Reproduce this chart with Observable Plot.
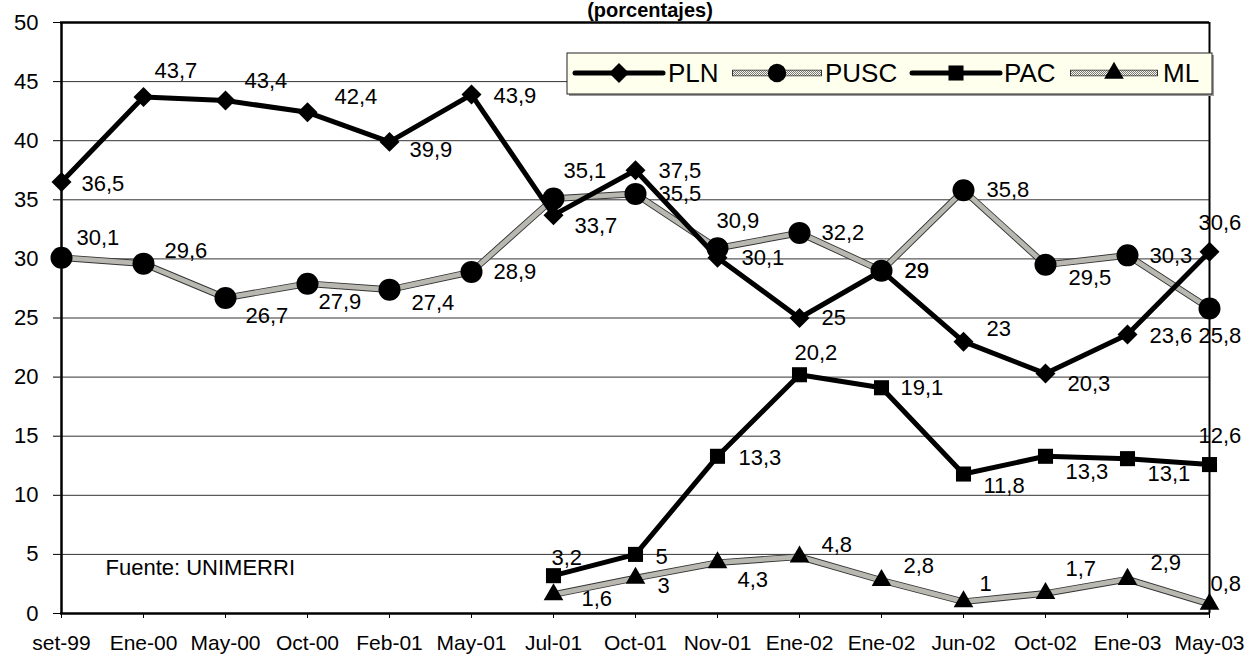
<!DOCTYPE html>
<html>
<head>
<meta charset="utf-8">
<script src="https://cdn.jsdelivr.net/npm/d3@7"></script>
<script src="https://cdn.jsdelivr.net/npm/@observablehq/plot@0.6"></script>
<style>
  body { margin: 0; background: #fff; font-family: "Liberation Sans", Arial, sans-serif; }
  #wrap { position: relative; width: 1257px; height: 656px; overflow: hidden; background: #fff; }
  #title { position: absolute; left: 550px; width: 200px; top: 0px; height: 20px; text-align: center;
           font: bold 20px/20px "Liberation Sans", Arial, sans-serif; color: #000; white-space: nowrap; }
  #chart { position: absolute; left: 0; top: 0; }
</style>
</head>
<body>
<div id="wrap"><div id="chart"></div><div id="title"></div></div>
<script>
// ---------- data ----------
const titleText = "(porcentajes)";
const sourceText = "Fuente: UNIMERRI";
const categories = ["set-99","Ene-00","May-00","Oct-00","Feb-01","May-01","Jul-01","Oct-01","Nov-01","Ene-02","Ene-02","Jun-02","Oct-02","Ene-03","May-03"];
const seriesNames = ["PLN","PUSC","PAC","ML"];
const plnValues  = [36.5,43.7,43.4,42.4,39.9,43.9,33.7,37.5,30.1,25,29,23,20.3,23.6,30.6];
const puscValues = [30.1,29.6,26.7,27.9,27.4,28.9,35.1,35.5,30.9,32.2,29,35.8,29.5,30.3,25.8];
const pacValues  = [null,null,null,null,null,null,3.2,5,13.3,20.2,19.1,11.8,13.3,13.1,12.6];
const mlValues   = [null,null,null,null,null,null,1.6,3,4.3,4.8,2.8,1,1.7,2.9,0.8];
const yTicks = [0,5,10,15,20,25,30,35,40,45,50];

// ---------- label placement (pixel nudges, layout only) ----------
const labelNudges = {
  PLN:  [[20,2],[11,-26],[19,-20],[27,-15],[20,8],[22,1],[21,11],[23,1],[24,0],[22,0],[23,0],[23,-13],[22,10],[22,1],[-11,-29]],
  PUSC: [[15,-20],[21,-13],[20,18],[11,18],[22,13],[22,0],[10,-28],[23,0],[-1,-27],[22,0],[23,0],[23,0],[23,13],[22,1],[-11,27]],
  PAC:  [null,null,null,null,null,null,[-2,-18],[20,3],[21,2],[-5,-22],[19,0],[20,12],[20,16],[20,15],[-11,-29]],
  ML:   [null,null,null,null,null,null,[28,4],[22,8],[20,17],[22,-12],[22,-14],[16,-18],[20,-24],[23,-16],[1,-20]]
};

// ---------- styles ----------
const STIPPLE = "#123456"; // placeholder replaced by pattern after render
const styles = {
  PLN:  {symbol: "diamond2", r: 9,   dotted: false},
  PUSC: {symbol: "circle",   r: 11,  dotted: true},
  PAC:  {symbol: "square",   r: 8.5, dotted: false},
  ML:   {symbol: "triangle", r: 7.3, dotted: true}
};
const valuesBy = {PLN: plnValues, PUSC: puscValues, PAC: pacValues, ML: mlValues};
const fmt = v => String(v).replace(".", ",");

const rowsBy = {};
for (const s of seriesNames) {
  rowsBy[s] = valuesBy[s].map((v, i) => ({i, v, series: s, label: v == null ? null : fmt(v)}))
                         .filter(d => d.v != null);
}

function lineMarks(s) {
  const st = styles[s];
  if (st.dotted) {
    return [
      Plot.line(rowsBy[s], {x: "i", y: "v", stroke: "#333", strokeWidth: 6.6, strokeLinejoin: "round"}),
      Plot.line(rowsBy[s], {x: "i", y: "v", stroke: STIPPLE, strokeWidth: 4.8, strokeLinejoin: "round"})
    ];
  }
  return [Plot.line(rowsBy[s], {x: "i", y: "v", stroke: "#000", strokeWidth: 5, strokeLinejoin: "round"})];
}
function dotMarks(s) {
  const st = styles[s];
  return [Plot.dot(rowsBy[s], {x: "i", y: "v", symbol: st.symbol, r: st.r, fill: "#000", stroke: "none"})];
}
function labelMarks(s) {
  return rowsBy[s].map(d => {
    const [dx, dy] = labelNudges[s][d.i];
    return Plot.text([d], {x: "i", y: "v", text: "label", dx, dy, textAnchor: "start",
                           lineAnchor: "middle", fontSize: 22, fill: "#000"});
  });
}

const plot = Plot.plot({
  width: 1257,
  height: 656,
  marginLeft: 60,
  marginRight: 48,
  marginTop: 22,
  marginBottom: 43,
  style: {fontFamily: "'Liberation Sans', Arial, sans-serif", background: "transparent", color: "#000", overflow: "visible"},
  x: {type: "point", domain: d3.range(categories.length), padding: 0},
  y: {domain: [0, 50]},
  marks: [
    Plot.ruleY(yTicks, {stroke: "#333", strokeWidth: 1}),
    Plot.ruleY([50], {stroke: "#000", strokeWidth: 2.5}),
    Plot.ruleX([categories.length - 1], {stroke: "#000", strokeWidth: 2}),
    Plot.axisY({ticks: yTicks, tickSize: 7, tickPadding: 15, fontSize: 22, label: null}),
    Plot.axisX({tickSize: 5, tickPadding: 17, fontSize: 21, label: null, tickFormat: i => categories[i]}),
    Plot.ruleX([0], {stroke: "#000", strokeWidth: 2.5}),
    Plot.ruleY([0], {stroke: "#000", strokeWidth: 2.5}),
    Plot.text([sourceText], {frameAnchor: "bottom-left", dx: 45, dy: -46, textAnchor: "start",
                             lineAnchor: "middle", fontSize: 22, fill: "#000"}),
    ...lineMarks("ML"), ...lineMarks("PUSC"), ...lineMarks("PAC"), ...lineMarks("PLN"),
    ...dotMarks("ML"), ...dotMarks("PAC"), ...dotMarks("PLN"), ...dotMarks("PUSC"),
    ...labelMarks("PLN"), ...labelMarks("PUSC"), ...labelMarks("PAC"), ...labelMarks("ML")
  ]
});

document.getElementById("chart").appendChild(plot);
document.getElementById("title").textContent = titleText;

// stipple pattern for the grey dotted series
const svg = d3.select(plot);
const defs = svg.insert("defs", ":first-child");
const pat = defs.append("pattern").attr("id", "stip").attr("patternUnits", "userSpaceOnUse")
  .attr("width", 2).attr("height", 2);
pat.append("rect").attr("width", 2).attr("height", 2).attr("fill", "#f6f6e8");
pat.append("rect").attr("width", 1).attr("height", 1).attr("fill", "#7a7a7a");
pat.append("rect").attr("x", 1).attr("y", 1).attr("width", 1).attr("height", 1).attr("fill", "#7a7a7a");
svg.selectAll(`[stroke="${STIPPLE}"]`).attr("stroke", "url(#stip)");

// legend box
const lg = svg.append("g").attr("class", "legend").attr("text-anchor", "start");
lg.append("rect").attr("x", 569).attr("y", 55).attr("width", 645).attr("height", 41).attr("fill", "#999");
lg.append("rect").attr("x", 567).attr("y", 53).attr("width", 645).attr("height", 41)
  .attr("fill", "#ffffee").attr("stroke", "#222").attr("stroke-width", 1);
const legendItems = [
  {s: "PLN",  x0: 575,  x1: 663,  tx: 668},
  {s: "PUSC", x0: 732,  x1: 822,  tx: 825},
  {s: "PAC",  x0: 912,  x1: 1000, tx: 1004},
  {s: "ML",   x0: 1070, x1: 1158, tx: 1163}
];
const ly = 73;
const symMap = {circle: d3.symbolCircle, diamond2: d3.symbolDiamond2, square: d3.symbolSquare, triangle: d3.symbolTriangle};
for (const it of legendItems) {
  const st = styles[it.s];
  if (st.dotted) {
    lg.append("line").attr("x1", it.x0).attr("x2", it.x1).attr("y1", ly).attr("y2", ly)
      .attr("stroke", "#333").attr("stroke-width", 6.6);
    lg.append("line").attr("x1", it.x0 + 1).attr("x2", it.x1 - 1).attr("y1", ly).attr("y2", ly)
      .attr("stroke", "url(#stip)").attr("stroke-width", 4.8);
  } else {
    lg.append("line").attr("x1", it.x0).attr("x2", it.x1).attr("y1", ly).attr("y2", ly)
      .attr("stroke", "#000").attr("stroke-width", 5).attr("stroke-linecap", "round");
  }
  const size = Math.PI * st.r * st.r * (it.s === "PUSC" ? 0.7 : 1);
  lg.append("path").attr("d", d3.symbol(symMap[st.symbol], size)())
    .attr("transform", `translate(${(it.x0 + it.x1) / 2},${ly})`).attr("fill", "#000");
  lg.append("text").attr("x", it.tx).attr("y", ly).attr("dy", "0.36em").attr("text-anchor", "start")
    .attr("font-size", 26).attr("fill", "#000").text(it.s);
}
</script>
</body>
</html>
